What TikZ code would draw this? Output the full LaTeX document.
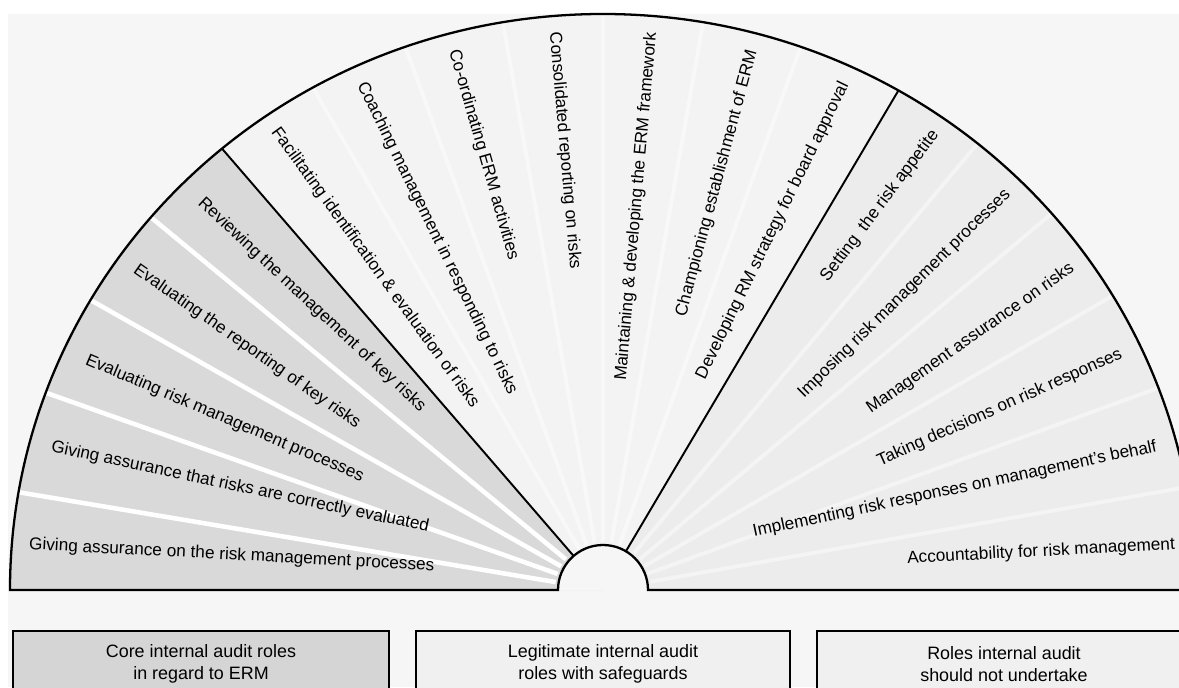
\documentclass[tikz,border=0pt]{standalone}
\usepackage{fontspec}
\setmainfont{Liberation Sans}
\usetikzlibrary{calc}
\definecolor{bgc}{HTML}{F6F6F6}
\definecolor{corec}{HTML}{D9D9D9}
\definecolor{legitc}{HTML}{F3F3F3}
\definecolor{rightc}{HTML}{ECECEC}
\definecolor{boxcore}{HTML}{D5D5D5}
\definecolor{boxlight}{HTML}{F0F0F0}
\begin{document}
\begin{tikzpicture}[x=0.02cm,y=0.02cm,
  lbl/.style={font=\fontsize{9.8}{11}\selectfont, inner sep=0pt},
  lblin/.style={lbl, anchor=west},
  lblout/.style={lbl, anchor=east},
  stripe/.style={white, line width=2.6pt},
  faintstripe/.style={white, line width=2.2pt, opacity=0.45},
  divider/.style={black, line width=1.1pt},
  outline/.style={black, line width=1.3pt},
  rolebox/.style={draw=black, line width=1.1pt},
  boxtext/.style={font=\fontsize{10.2}{12.6}\selectfont, align=center, inner sep=0pt}]
\useasboundingbox (0,0) rectangle (1179,687);
\clip (0,0) rectangle (1179,687);
\fill[white] (0,0) rectangle (1179,687);
\fill[bgc] (8,0) rectangle (1179,673);

\coordinate (C) at (603,97);
% sector fills
\begin{scope}
  \clip (C) ++(-593,0) arc[start angle=180,end angle=0,x radius=593,y radius=576] -- cycle;
  \fill[rightc] (0,97) rectangle (1179,687);
  \fill[legitc] (C) -- +(59.4:900) -- +(90:900) -- +(130.8:900) -- cycle;
  \fill[corec] (C) -- +(130.8:900) -- +(180:900) -- cycle;
  \foreach \a in {140.5,150.5,160.5,170.5}
    \draw[stripe] (C) ++(\a:48) -- ++(\a:700);
  \foreach \a in {70,80,90,100,110,120}
    \draw[faintstripe] (C) ++(\a:48) -- ++(\a:700);
  \foreach \a in {10,20,30,40,50}
    \draw[faintstripe] (C) ++(\a:48) -- ++(\a:700);
  \fill[bgc] (C) circle[radius=45];
\end{scope}

% dividers
\coordinate (dL0) at ($(C)+(130.8:45)$);
\coordinate (dL1) at ($(C)+(130.8:583)$);
\coordinate (dR0) at ($(C)+(59.4:45)$);
\coordinate (dR1) at ($(C)+(59.4:580)$);
\draw[divider] (dL0) -- (dL1);
\draw[divider] (dR0) -- (dR1);

% outline
\draw[outline] (C) ++(-593,0) arc[start angle=180,end angle=0,x radius=593,y radius=576]
  -- ($(C)+(45,0)$) arc[start angle=0,end angle=180,radius=45] -- cycle;

% core labels
\node[lblin, rotate=-43] (c1) at ($(C)+(136:560)$) {Reviewing the management of key risks};
\node[lblin, rotate=-35] (c2) at ($(C)+(145.5:568)$) {Evaluating the reporting of key risks};
\node[lblin, rotate=-23] (c3) at ($(C)+(156:566)$) {Evaluating risk management processes};
\node[lblin, rotate=-12] (c4) at ($(C)+(165.5:570)$) {Giving assurance that risks are correctly evaluated};
\node[lblin, rotate=-3] (c5) at ($(C)+(175.5:576)$) {Giving assurance on the risk management processes};

% legitimate labels
\node[lblin, rotate=-54] (l1) at ($(C)+(125.5:566)$) {Facilitating identification \& evaluation of risks};
\node[lblin, rotate=-64] (l2) at ($(C)+(115.5:562)$) {Coaching management in responding to risks};
\node[lblin, rotate=-74] (l3) at ($(C)+(105.5:560)$) {Co-ordinating ERM activities};
\node[lblin, rotate=-85] (l4) at ($(C)+(95:560)$) {Consolidated reporting on risks};
\node[lblout, rotate=85] (l5) at ($(C)+(85:560)$) {Maintaining \& developing the ERM framework};
\node[lblout, rotate=75] (l6) at ($(C)+(74.5:560)$) {Championing establishment of ERM};
\node[lblout, rotate=64] (l7) at ($(C)+(64.5:562)$) {Developing RM strategy for board approval};

% should-not labels
\node[lblout, rotate=53] (r1) at ($(C)+(54:566)$) {Setting\ \ the risk appetite};
\node[lblout, rotate=44.5] (r2) at ($(C)+(44.5:568)$) {Imposing risk management processes};
\node[lblout, rotate=35] (r3) at ($(C)+(34.5:570)$) {Management assurance on risks};
\node[lblout, rotate=24] (r4) at ($(C)+(24.5:570)$) {Taking decisions on risk responses};
\node[lblout, rotate=12] (r5) at ($(C)+(14.5:572)$) {Implementing risk responses on management's behalf};
\node[lblout, rotate=3] (r6) at ($(C)+(4.5:574)$) {Accountability for risk management};

% bottom boxes
\draw[rolebox, fill=boxcore] (13,-20) rectangle (389,56);
\draw[rolebox, fill=boxlight] (416,-20) rectangle (790,56);
\draw[rolebox, fill=boxlight] (817,-20) rectangle (1193,56);
\node[boxtext] (b1) at (201,23) {Core internal audit roles\\in regard to ERM};
\node[boxtext] (b2) at (603,23) {Legitimate internal audit\\roles with safeguards};
\node[boxtext] (b3) at (1004,23) {Roles internal audit\\should not undertake};
\end{tikzpicture}
\end{document}
